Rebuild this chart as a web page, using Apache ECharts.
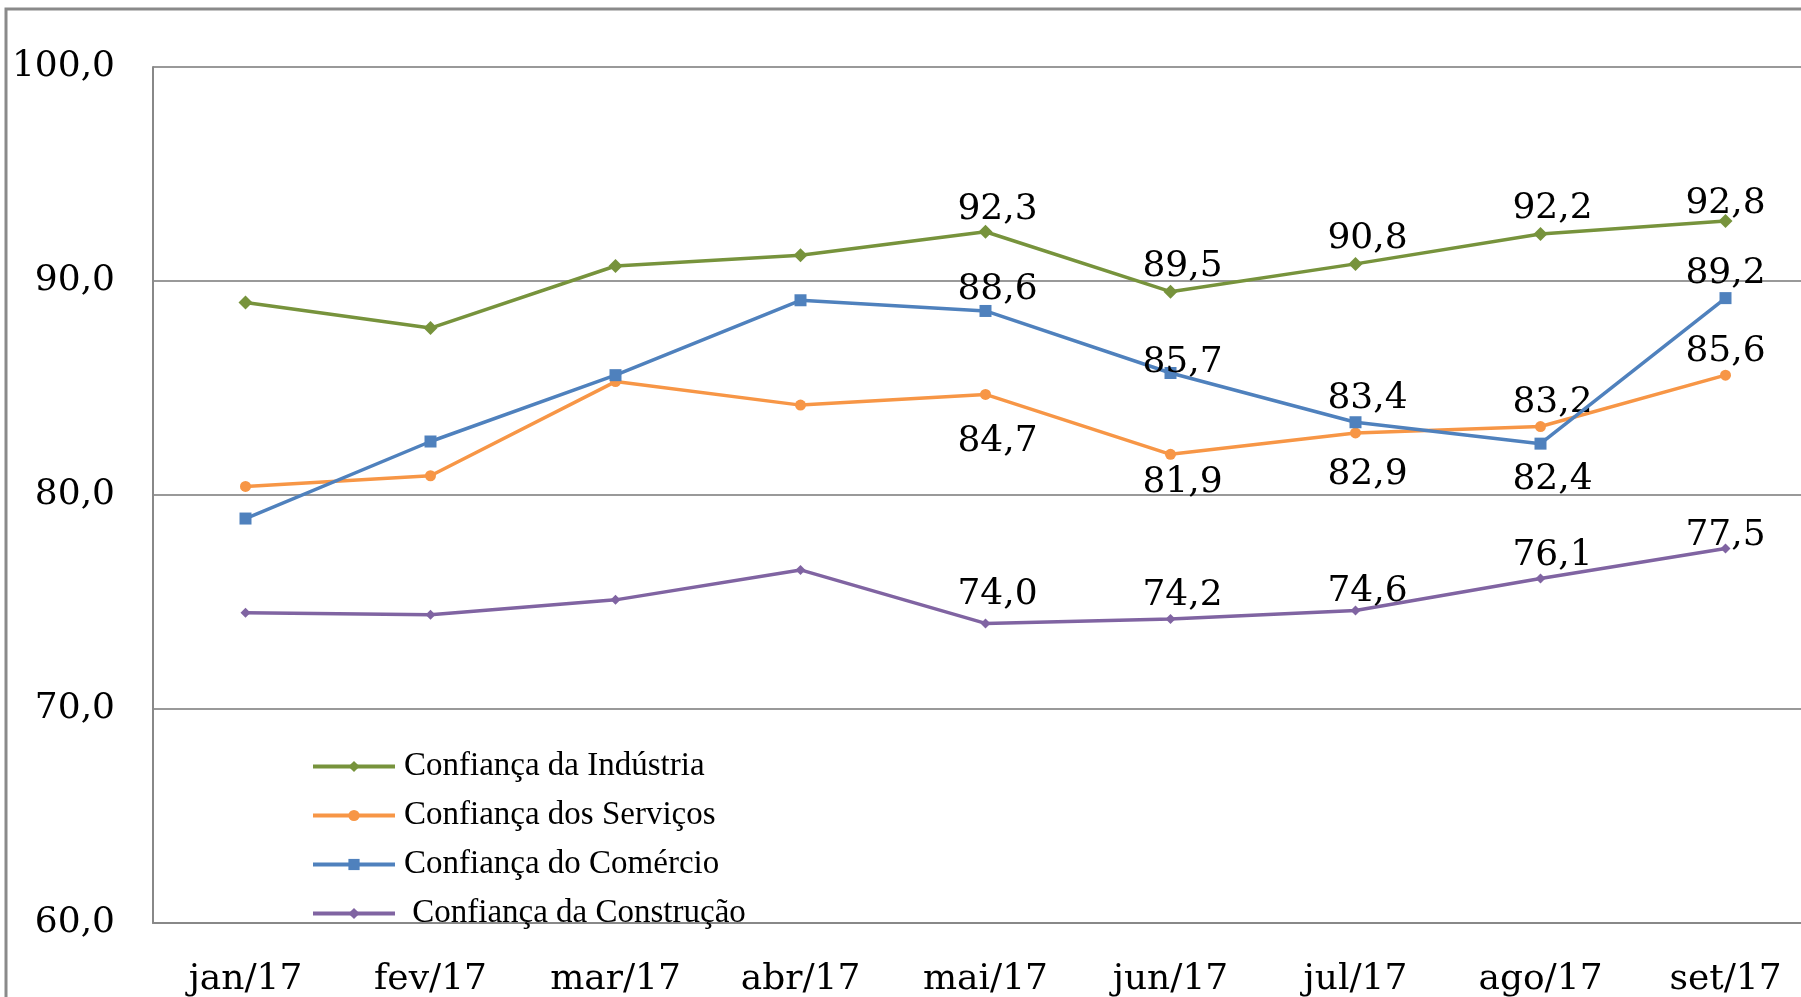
<!DOCTYPE html>
<html>
<head>
<meta charset="utf-8">
<script src="https://cdn.jsdelivr.net/npm/echarts@6/dist/echarts.min.js"></script>
<style>
  html, body { margin: 0; padding: 0; background: #fff; }
  #main { width: 1801px; height: 997px; }
</style>
</head>
<body>
<div id="main"></div>
<script>
const categories = ['jan/17', 'fev/17', 'mar/17', 'abr/17', 'mai/17', 'jun/17', 'jul/17', 'ago/17', 'set/17'];
const industria  = [89.0, 87.8, 90.7, 91.2, 92.3, 89.5, 90.8, 92.2, 92.8];
const servicos   = [80.4, 80.9, 85.3, 84.2, 84.7, 81.9, 82.9, 83.2, 85.6];
const comercio   = [78.9, 82.5, 85.6, 89.1, 88.6, 85.7, 83.4, 82.4, 89.2];
const construcao = [74.5, 74.4, 75.1, 76.5, 74.0, 74.2, 74.6, 76.1, 77.5];
const seriesNames = ['Confiança da Indústria', 'Confiança dos Serviços', 'Confiança do Comércio', ' Confiança da Construção'];

// data labels only from mai/17 onwards
const firstLabel = 4;
const fmt = v => v.toFixed(1).replace('.', ',');

// below: indexes whose label sits under the point; nudge: small vertical tweaks (px) like in the original
function withLabels(values, below, nudge) {
  return values.map((v, i) => {
    const isBelow = below.indexOf(i) >= 0;
    return {
      value: v,
      label: {
        show: i >= firstLabel,
        position: isBelow ? 'bottom' : 'top',
        distance: isBelow ? 12 : 0,
        offset: [i < 8 ? 12 : 0, (nudge && nudge[i]) || 0]
      }
    };
  });
}

const labelStyle = {
  formatter: p => fmt(p.value),
  fontFamily: 'DejaVu Serif',
  fontSize: 36,
  color: '#000'
};

var myChart = echarts.init(document.getElementById('main'));

const option = {
  animation: false,
  backgroundColor: '#fff',
  graphic: [{
    type: 'rect',
    shape: { x: 6, y: 9, width: 2000, height: 2000 },
    style: { fill: 'none', stroke: '#8a8a8a', lineWidth: 3 },
    silent: true
  }],
  grid: { left: 153, top: 67, right: -17, bottom: 74, outerBoundsMode: 'none' },
  legend: {
    orient: 'vertical',
    left: 306,
    top: 745,
    itemWidth: 82,
    itemHeight: 14,
    itemGap: 16,
    data: seriesNames,
    lineStyle: { width: 4 },
    textStyle: { fontFamily: 'Liberation Serif', fontSize: 33, lineHeight: 32, color: '#000', padding: [0, 0, 0, 4] }
  },
  xAxis: {
    type: 'category',
    data: categories,
    axisLine: { lineStyle: { color: '#888', width: 2 } },
    axisTick: { show: false },
    axisLabel: { fontFamily: 'DejaVu Serif', fontSize: 36, color: '#000', margin: 39 }
  },
  yAxis: {
    type: 'value',
    min: 60,
    max: 100,
    interval: 10,
    axisLine: { show: true, lineStyle: { color: '#888', width: 2 } },
    splitLine: { lineStyle: { color: '#999', width: 2 } },
    axisLabel: {
      formatter: v => fmt(v),
      fontFamily: 'DejaVu Serif', fontSize: 36, color: '#000', margin: 38
    }
  },
  series: [
    {
      name: seriesNames[0], type: 'line',
      data: withLabels(industria, [], { 4: 3, 8: 8 }),
      symbol: 'diamond', symbolSize: 14,
      lineStyle: { width: 3.5, color: '#77933C' },
      itemStyle: { color: '#77933C' },
      label: labelStyle, z: 4
    },
    {
      name: seriesNames[1], type: 'line',
      data: withLabels(servicos, [4, 5, 6], { 4: 12, 5: -7, 6: 6 }),
      symbol: 'circle', symbolSize: 11,
      lineStyle: { width: 3.5, color: '#F79646' },
      itemStyle: { color: '#F79646' },
      label: labelStyle, z: 2
    },
    {
      name: seriesNames[2], type: 'line',
      data: withLabels(comercio, [7], { 4: 3, 5: 14 }),
      symbol: 'rect', symbolSize: 12,
      lineStyle: { width: 3.5, color: '#4F81BD' },
      itemStyle: { color: '#4F81BD' },
      label: labelStyle, z: 3
    },
    {
      name: seriesNames[3], type: 'line',
      data: withLabels(construcao, [], { 4: -6, 6: 4, 8: 10 }),
      symbol: 'diamond', symbolSize: 10,
      lineStyle: { width: 3.5, color: '#8064A2' },
      itemStyle: { color: '#8064A2' },
      label: labelStyle, z: 1
    }
  ]
};

myChart.setOption(option);
</script>
</body>
</html>
